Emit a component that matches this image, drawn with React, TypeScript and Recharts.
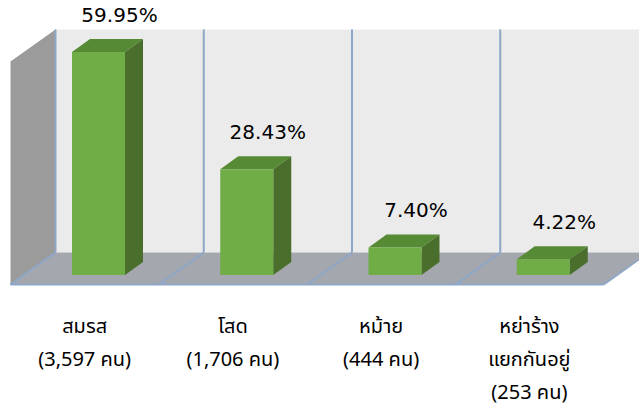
import { BarChart, Bar, XAxis, YAxis, ReferenceArea, LabelList } from "recharts";

const categoryLines = [["สมรส"], ["โสด"], ["หม้าย"], ["หย่าร้าง", "แยกกันอยู่"]];
const counts = [3597, 1706, 444, 253];
const percents = [59.95, 28.43, 7.4, 4.22];

const data = categoryLines.map((lines, i) => ({
  name: lines.join(" "),
  pct: percents[i],
}));

const COLORS = {
  front: "#70ad47",
  top: "#578a35",
  side: "#4a6f2c",
  backWall: "#ebebeb",
  leftWall: "#9b9b9b",
  floor: "#a5a7ae",
  grid: "#8fa7c7",
};

// 3d look: full floor depth, bar plane sits 30% in from the front edge
const DEPTH = { x: 45, y: -32 };
const FRONT = 0.3;
const BAR_DEPTH = { x: 18, y: -13 };

const pts = (p: number[][]) => p.map(([a, b]) => `${a},${b}`).join(" ");

function Walls(props: any) {
  const { x, y, width, height } = props;
  const fx = -DEPTH.x * FRONT, fy = -DEPTH.y * FRONT;
  const bx = DEPTH.x * (1 - FRONT), by = DEPTH.y * (1 - FRONT);
  const x0 = x, x1 = x + width, top = y, base = y + height;
  const n = categoryLines.length;
  const step = width / n;
  const bounds = Array.from({ length: n + 1 }, (_, i) => x0 + i * step);
  return (
    <g>
      <polygon fill={COLORS.backWall} points={pts([[x0 + bx, top + by], [x1 + bx, top + by], [x1 + bx, base + by], [x0 + bx, base + by]])} />
      <polygon fill={COLORS.leftWall} points={pts([[x0 + fx, top + fy], [x0 + bx, top + by], [x0 + bx, base + by], [x0 + fx, base + fy]])} />
      <polygon fill={COLORS.floor} points={pts([[x0 + fx, base + fy], [x0 + bx, base + by], [x1 + bx, base + by], [x1 + fx, base + fy]])} />
      {bounds.map((bxp, i) => (
        <g key={i}>
          <line x1={bxp + bx} y1={top + by} x2={bxp + bx} y2={base + by} stroke={COLORS.grid} strokeWidth={2} />
          <line x1={bxp + bx} y1={base + by} x2={bxp + fx} y2={base + fy} stroke={COLORS.grid} strokeWidth={2} />
        </g>
      ))}
      <line x1={x0 + fx} y1={base + fy} x2={x1 + fx} y2={base + fy} stroke={COLORS.grid} strokeWidth={2} />
    </g>
  );
}

function Box(props: any) {
  const { x, y, width, height } = props;
  const dx = BAR_DEPTH.x, dy = BAR_DEPTH.y;
  return (
    <g>
      <polygon fill={COLORS.top} points={pts([[x, y], [x + dx, y + dy], [x + width + dx, y + dy], [x + width, y]])} />
      <polygon fill={COLORS.side} points={pts([[x + width, y], [x + width + dx, y + dy], [x + width + dx, y + height + dy], [x + width, y + height]])} />
      <rect x={x} y={y} width={width} height={height} fill={COLORS.front} />
    </g>
  );
}

function PctLabel(props: any) {
  const { x, y, width, value } = props;
  return (
    <text x={x + width / 2 + 21} y={y + BAR_DEPTH.y - 17} textAnchor="middle" fontFamily="'DejaVu Sans', sans-serif" fontSize={20} fill="#000">
      {Number(value).toFixed(2)}%
    </text>
  );
}

function CatTick(props: any) {
  const { x, y, index } = props;
  const lines = [...categoryLines[index], `(${counts[index].toLocaleString("en-US")} คน)`];
  return (
    <text x={x - DEPTH.x * FRONT} y={y} textAnchor="middle" fontFamily="Tahoma, 'Noto Sans Thai', 'DejaVu Sans', sans-serif" fontSize={20} fill="#000">
      {lines.map((l, i) => (
        <tspan key={i} x={x - DEPTH.x * FRONT} dy={i === 0 ? 58 : 33}>{l}</tspan>
      ))}
    </text>
  );
}

export default function App() {
  return (
    <div style={{ position: "absolute", left: 0, top: 0, background: "#fff" }}>
      <BarChart width={639} height={407} data={data} margin={{ top: 51.8, right: 22, bottom: 102, left: 24 }} barSize={53}>
        <XAxis dataKey="name" axisLine={false} tickLine={false} tickSize={0} tickMargin={0} height={30} interval={0} tick={<CatTick />} />
        <YAxis hide domain={[0, 60]} />
        <ReferenceArea y1={0} y2={60} ifOverflow="visible" shape={<Walls />} zIndex={-100} />
        <Bar dataKey="pct" shape={<Box />} isAnimationActive={false}>
          <LabelList dataKey="pct" content={<PctLabel />} />
        </Bar>
      </BarChart>
    </div>
  );
}
